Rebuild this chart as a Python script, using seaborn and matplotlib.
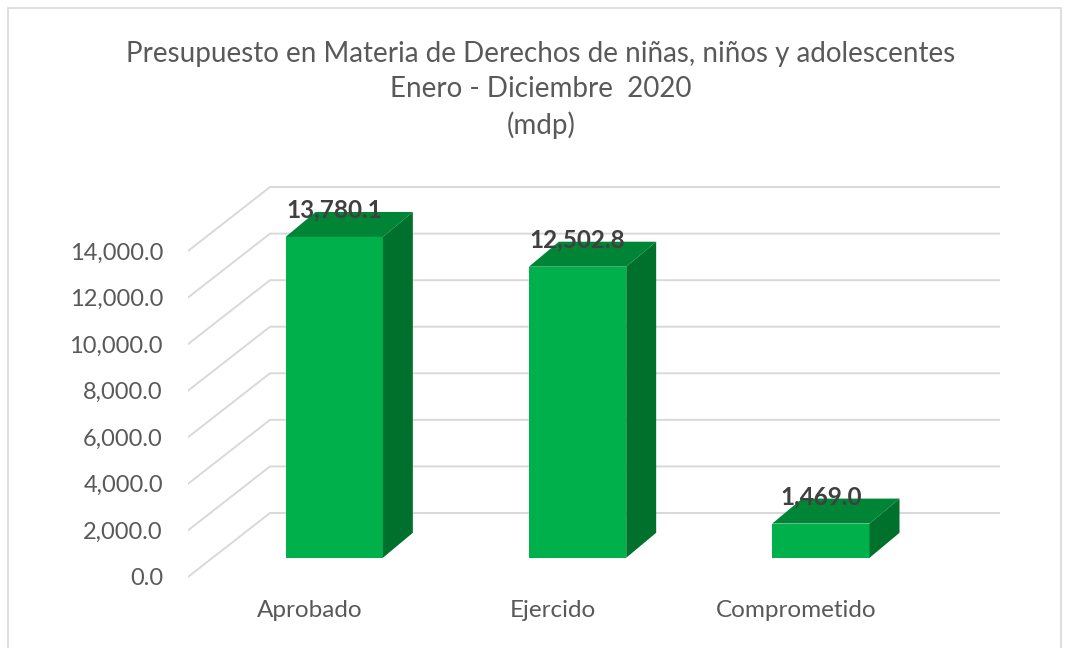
import seaborn as sns
import matplotlib.pyplot as plt
from matplotlib.patches import Polygon, Rectangle
from matplotlib.transforms import Affine2D

categories = ["Aprobado", "Ejercido", "Comprometido"]
values = [13780.1, 12502.8, 1469.0]
yticks = [0, 2000, 4000, 6000, 8000, 10000, 12000, 14000]
title = "Presupuesto en Materia de Derechos de niñas, niños y adolescentes\nEnero - Diciembre  2020\n(mdp)"

front_col = "#00B04A"
top_col = "#008536"
side_col = "#00702D"
grid_col = "#D9D9D9"
text_col = "#595959"

sns.set_style("white")
plt.rcParams['font.family'] = ['Lato', 'DejaVu Sans']

fig = plt.figure(figsize=(10.65, 6.48), dpi=100)
ax = fig.add_axes([188 / 1065, 48 / 648, 812 / 1065, 430 / 648])

# depth of the "3D" floor, in data units
DX, DY = 0.337, 2748
# bar front plane and bar depth
fdx, fdy = 0.101, 824
bdx, bdy = 0.123, 1073

sns.barplot(x=categories, y=values, color=front_col, width=0.4, ax=ax,
            saturation=1, zorder=3)

shift = Affine2D().translate(fdx, fdy) + ax.transData
for p in ax.patches:
    p.set_transform(shift)
    p.set_edgecolor("none")
    x0, x1 = p.get_x(), p.get_x() + p.get_width()
    b, t = p.get_y(), p.get_y() + p.get_height()
    x0, x1, b, t = x0 + fdx, x1 + fdx, b + fdy, t + fdy
    ax.add_patch(Polygon([(x0, t), (x1, t), (x1 + bdx, t + bdy), (x0 + bdx, t + bdy)],
                         closed=True, fc=top_col, ec="none", zorder=3))
    ax.add_patch(Polygon([(x1, b), (x1, t), (x1 + bdx, t + bdy), (x1 + bdx, b + bdy)],
                         closed=True, fc=side_col, ec="none", zorder=3))

for i, v in enumerate(values):
    ax.text(i + fdx, v + fdy + 1150, f"{v:,.1f}", ha="center", va="center",
            fontsize=17.5, fontweight="bold", color="#404040", zorder=5)

# perspective gridlines: front edge -> back wall
for v in yticks:
    ax.plot([-0.5, -0.5 + DX, 2.5 + DX], [v, v + DY, v + DY],
            color=grid_col, lw=1.4, zorder=1, solid_joinstyle="miter")

ax.set_xlim(-0.5, 2.5 + DX)
ax.set_ylim(-990, 17480)
ax.set_yticks(yticks)
ax.set_yticklabels([f"{v:,.1f}" for v in yticks])
ax.tick_params(axis="y", length=0, pad=18, labelsize=17, labelcolor=text_col)
ax.tick_params(axis="x", length=0, pad=0, labelsize=17.5, labelcolor=text_col)
ax.set_xlabel("")
ax.set_ylabel("")
sns.despine(ax=ax, left=True, bottom=True)

fig.text(541 / 1065, 1 - 90 / 648, title, ha="center", va="center",
         fontsize=20, color=text_col, linespacing=1.4)

fig.add_artist(Rectangle((8 / 1065, -0.01), 1053 / 1065, 1 - 8 / 648 + 0.01,
                         transform=fig.transFigure, fill=False,
                         ec=grid_col, lw=1.2))

fig.savefig("out.png", dpi=100)
